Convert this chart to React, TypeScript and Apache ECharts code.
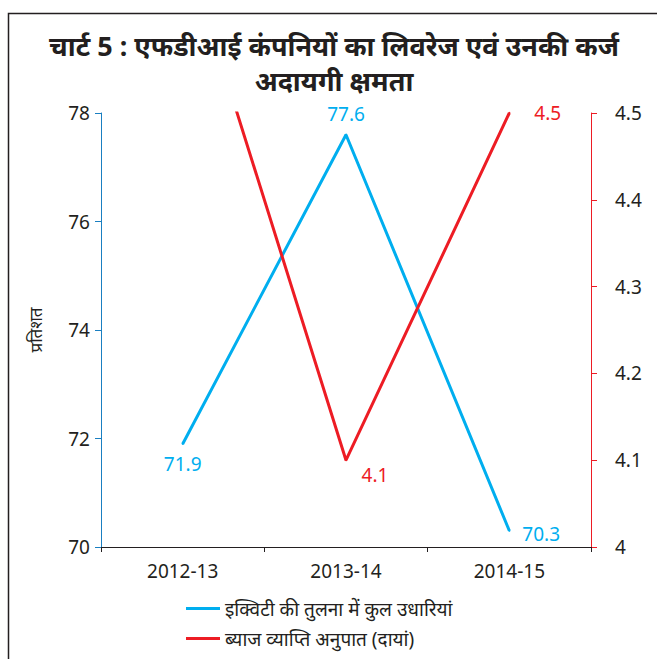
import React, { useEffect, useRef } from "react";
import * as echarts from "echarts";

const categories = ["2012-13", "2013-14", "2014-15"];
const debtToEquity = [71.9, 77.6, 70.3];
const interestCoverage = [4.7, 4.1, 4.5];
const leftTicks = { min: 70, max: 78, interval: 2 };
const rightTicks = { min: 4, max: 4.5, interval: 0.1 };
const seriesNames = ["इक्विटी की तुलना में कुल उधारियां", "ब्याज व्याप्ति अनुपात (दायां)"];
const titleLines = ["चार्ट 5 : एफडीआई कंपनियों का लिवरेज एवं उनकी कर्ज", "अदायगी क्षमता"];
const yAxisName = "प्रतिशत";

const FONT = "'Noto Sans', 'Open Sans', sans-serif";
const BLUE = "#00aeef";
const RED = "#ed1c24";
const DARK = "#231f20";

export default function App() {
  const ref = useRef<HTMLDivElement>(null);
  useEffect(() => {
    if (!ref.current) return;
    const chart = echarts.init(ref.current, undefined, { renderer: "svg" });
    const blueLabelPos = ["bottom", "top", "right"];
    const redShow = [false, true, true];
    chart.setOption({
      animation: false,
      textStyle: { fontFamily: FONT },
      graphic: [
        {
          type: "rect",
          shape: { x: 8.5, y: 13.5, width: 700, height: 700 },
          style: { fill: "none", stroke: DARK, lineWidth: 1.5 },
          silent: true,
        },
        {
          type: "text",
          x: 334,
          y: 45,
          style: {
            text: titleLines[0],
            fontSize: 27,
            fontWeight: "bold",
            fontFamily: FONT,
            fill: DARK,
            align: "center",
            verticalAlign: "middle",
          },
        },
        {
          type: "text",
          x: 334,
          y: 80,
          style: {
            text: titleLines[1],
            fontSize: 27,
            fontWeight: "bold",
            fontFamily: FONT,
            fill: DARK,
            align: "center",
            verticalAlign: "middle",
          },
        },
      ],
      grid: { left: 101, right: 66, top: 113, bottom: 112 },
      legend: {
        orient: "vertical",
        left: 181,
        top: 594,
        itemGap: 11,
        itemWidth: 34,
        itemHeight: 3,
        icon: "rect",
        textStyle: { fontSize: 19, color: DARK, fontFamily: FONT },
        data: [
          { name: seriesNames[0], itemStyle: { color: BLUE } },
          { name: seriesNames[1], itemStyle: { color: RED } },
        ],
      },
      xAxis: {
        type: "category",
        data: categories,
        axisLine: { lineStyle: { color: DARK, width: 1 } },
        axisTick: { show: true, length: 5, lineStyle: { color: DARK } },
        axisLabel: { color: DARK, fontSize: 19, margin: 14, fontFamily: FONT },
      },
      yAxis: [
        {
          type: "value",
          min: leftTicks.min,
          max: leftTicks.max,
          interval: leftTicks.interval,
          name: yAxisName,
          nameLocation: "middle",
          nameGap: 57,
          nameTextStyle: { fontSize: 17, color: DARK, fontFamily: FONT },
          axisLine: { show: true, lineStyle: { color: "#1a7fc1", width: 1 } },
          axisTick: { show: true, length: 6, lineStyle: { color: "#1a7fc1" } },
          axisLabel: { color: DARK, fontSize: 19, margin: 11, fontFamily: FONT },
          splitLine: { show: false },
        },
        {
          type: "value",
          position: "right",
          min: rightTicks.min,
          max: rightTicks.max,
          interval: rightTicks.interval,
          axisLine: { show: true, lineStyle: { color: RED, width: 1 } },
          axisTick: { show: true, length: 6, lineStyle: { color: RED } },
          axisLabel: {
            color: DARK,
            fontSize: 19,
            margin: 24,
            fontFamily: FONT,
            formatter: (v: number) => (Math.round(v * 10) / 10).toString(),
          },
          splitLine: { show: false },
        },
      ],
      series: [
        {
          name: seriesNames[0],
          type: "line",
          yAxisIndex: 0,
          symbol: "circle",
          symbolSize: 2,
          showSymbol: true,
          lineStyle: { color: BLUE, width: 3 },
          itemStyle: { color: BLUE },
          data: debtToEquity.map((v, i) => ({
            value: v,
            label: {
              show: true,
              position: blueLabelPos[i],
              distance: 10,
              offset: blueLabelPos[i] === "right" ? [2, 3] : [0, 0],
              color: BLUE,
              fontSize: 19,
              fontFamily: FONT,
            },
          })),
        },
        {
          name: seriesNames[1],
          type: "line",
          yAxisIndex: 1,
          symbol: "circle",
          symbolSize: 2,
          showSymbol: true,
          clip: true,
          lineStyle: { color: RED, width: 3 },
          itemStyle: { color: RED },
          data: interestCoverage.map((v, i) => ({
            value: v,
            label: {
              show: redShow[i],
              position: i === 1 ? "bottom" : "right",
              distance: i === 1 ? 4 : 24,
              offset: i === 1 ? [29, 0] : [0, 0],
              color: RED,
              fontSize: 19,
              fontFamily: FONT,
            },
          })),
        },
      ],
    });
    return () => chart.dispose();
  }, []);
  return <div ref={ref} style={{ width: 657, height: 659, position: "absolute", left: 0, top: 0 }} />;
}
